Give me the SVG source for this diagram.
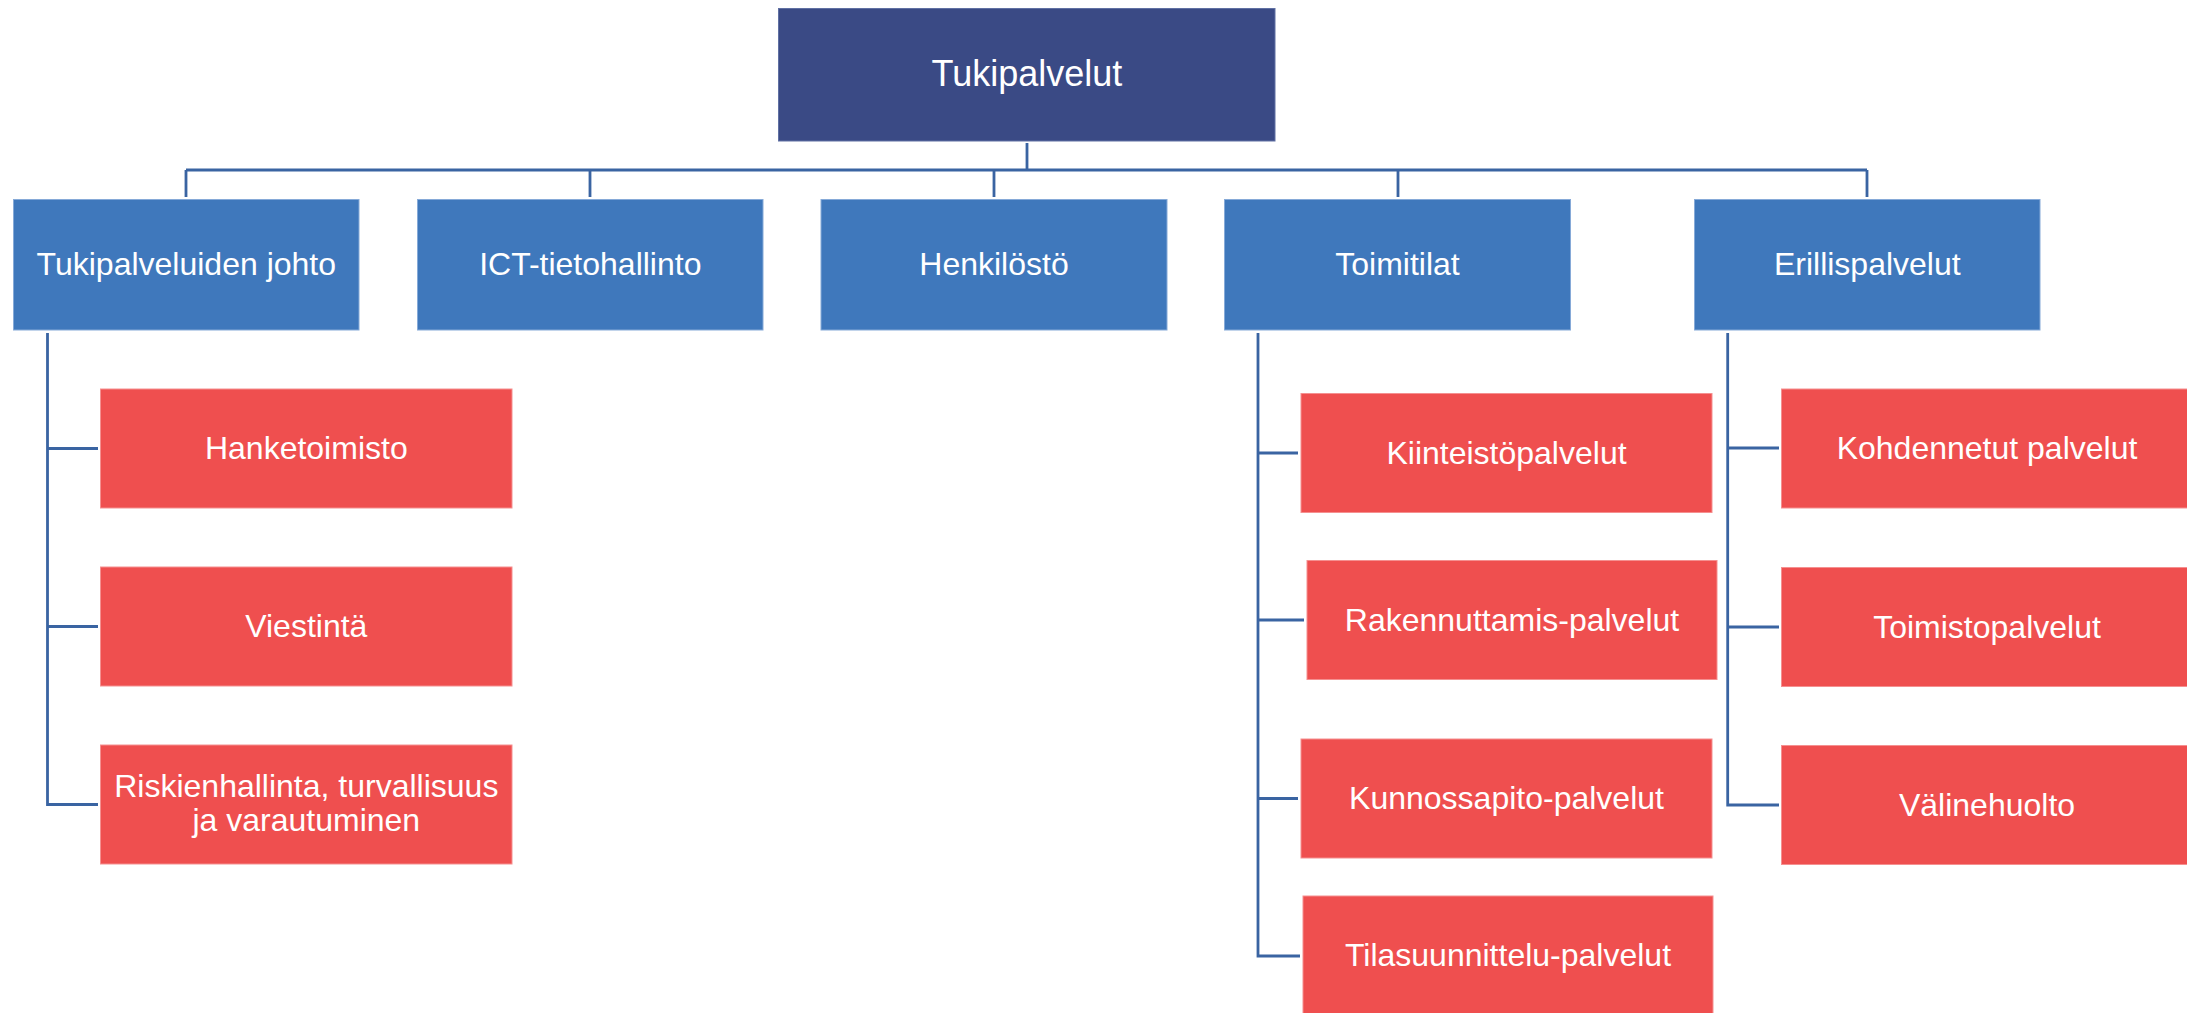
<svg xmlns="http://www.w3.org/2000/svg" width="2187" height="1013" viewBox="0 0 2187 1013">
<style>
.top{fill:#3A4A85;stroke:#6070A3;stroke-width:1}
.mid{fill:#3F78BC;stroke:#86AAD8;stroke-width:1}
.sub{fill:#EF4F4F;stroke:#F59090;stroke-width:1}
text{font-family:"Liberation Sans",Arial,sans-serif;fill:#FFFFFF;text-anchor:middle;font-size:32px}
.conn{fill:none;stroke:#3A64A2;stroke-width:2.8}
</style>
<rect x="0" y="0" width="2187" height="1013" fill="#FFFFFF"/>
<g id="connectors">
<path class="conn" d="M1027,143 V170"/>
<path class="conn" d="M186,170 H1867"/>
<path class="conn" d="M186,170 V197 M590,170 V197 M994,170 V197 M1398,170 V197 M1867,170 V197"/>
<path class="conn" d="M98,804.5 H47.5 V333 M47.5,448.5 H98 M47.5,626.5 H98"/>
<path class="conn" d="M1300,956 H1258 V333 M1258,453 H1298 M1258,620 H1304 M1258,798.5 H1298"/>
<path class="conn" d="M1779,805 H1727.7 V333 M1727.7,448 H1779 M1727.7,627 H1779"/>
</g>
<g id="n-tukipalvelut"><rect class="top" x="778.5" y="8.5" width="496.5" height="132.5"/><text x="1027" y="86" style="font-size:36px">Tukipalvelut</text></g>
<g id="n-johto"><rect class="mid" x="13.5" y="199.5" width="345.5" height="130.5"/><text x="186.3" y="275">Tukipalveluiden johto</text></g>
<g id="n-ict"><rect class="mid" x="417.5" y="199.5" width="345.5" height="130.5"/><text x="590.3" y="275">ICT-tietohallinto</text></g>
<g id="n-henkilosto"><rect class="mid" x="821" y="199.5" width="346" height="130.5"/><text x="994" y="275">Henkilöstö</text></g>
<g id="n-toimitilat"><rect class="mid" x="1224.5" y="199.5" width="346" height="130.5"/><text x="1397.5" y="275">Toimitilat</text></g>
<g id="n-erillispalvelut"><rect class="mid" x="1694.5" y="199.5" width="345.5" height="130.5"/><text x="1867.3" y="275">Erillispalvelut</text></g>
<g id="n-hanketoimisto"><rect class="sub" x="100.5" y="389" width="411.5" height="119"/><text x="306.3" y="459">Hanketoimisto</text></g>
<g id="n-viestinta"><rect class="sub" x="100.5" y="567" width="411.5" height="119"/><text x="306.3" y="637">Viestintä</text></g>
<g id="n-riskienhallinta"><rect class="sub" x="100.5" y="745" width="411.5" height="119"/><text x="306.3" y="797">Riskienhallinta, turvallisuus</text><text x="306.3" y="831">ja varautuminen</text></g>
<g id="n-kiinteisto"><rect class="sub" x="1301" y="393.5" width="411" height="119"/><text x="1506.5" y="463.5">Kiinteistöpalvelut</text></g>
<g id="n-rakennuttamis"><rect class="sub" x="1307" y="560.5" width="410" height="119"/><text x="1512" y="630.5">Rakennuttamis-palvelut</text></g>
<g id="n-kunnossapito"><rect class="sub" x="1301" y="739" width="411" height="119"/><text x="1506.5" y="809">Kunnossapito-palvelut</text></g>
<g id="n-tilasuunnittelu"><rect class="sub" x="1303" y="896" width="410" height="119"/><text x="1508" y="966">Tilasuunnittelu-palvelut</text></g>
<g id="n-kohdennetut"><rect class="sub" x="1781.5" y="389" width="411" height="119"/><text x="1987" y="459">Kohdennetut palvelut</text></g>
<g id="n-toimisto"><rect class="sub" x="1781.5" y="567.5" width="411" height="119"/><text x="1987" y="637.5">Toimistopalvelut</text></g>
<g id="n-valinehuolto"><rect class="sub" x="1781.5" y="745.5" width="411" height="119"/><text x="1987" y="815.5">Välinehuolto</text></g>
</svg>
